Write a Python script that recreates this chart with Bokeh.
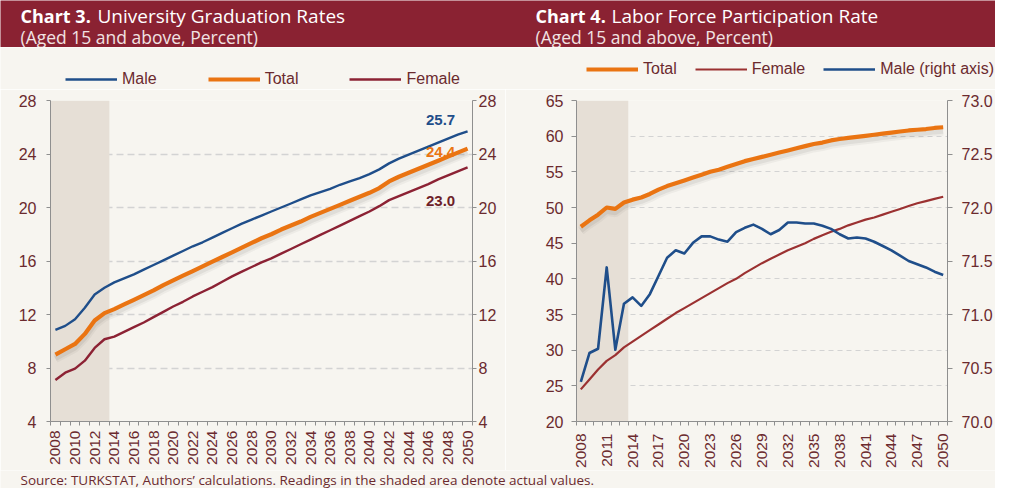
import math
from bokeh.plotting import figure
from bokeh.models import (Range1d, LinearAxis, FixedTicker, Legend, LegendItem,
                          NumeralTickFormatter, BoxAnnotation, ColumnDataSource)
from bokeh.layouts import column, row
from bokeh.core.properties import value
from bokeh.transform import dodge
from bokeh.embed import file_html
from bokeh.resources import INLINE

# ---------------- data ----------------
years = list(range(2008, 2051))
last_actual_year = 2013

grad_male = [10.85, 11.15, 11.65, 12.5, 13.5, 14.0, 14.4, 14.7, 15.0, 15.35, 15.7, 16.05,
             16.4, 16.75, 17.1, 17.4, 17.75, 18.1, 18.45, 18.8, 19.1, 19.4, 19.7, 20.0,
             20.3, 20.6, 20.9, 21.15, 21.4, 21.7, 21.95, 22.2, 22.5, 22.85, 23.3, 23.65,
             23.95, 24.25, 24.55, 24.85, 25.15, 25.45, 25.7]
grad_total = [9.0, 9.4, 9.8, 10.55, 11.55, 12.1, 12.4, 12.75, 13.1, 13.45, 13.8, 14.2,
              14.55, 14.9, 15.25, 15.6, 15.95, 16.3, 16.65, 17.0, 17.35, 17.7, 18.0, 18.35,
              18.65, 18.95, 19.3, 19.6, 19.9, 20.2, 20.5, 20.8, 21.1, 21.45, 21.95, 22.3,
              22.6, 22.9, 23.2, 23.5, 23.8, 24.1, 24.4]
grad_female = [7.1, 7.65, 7.95, 8.55, 9.5, 10.15, 10.35, 10.7, 11.05, 11.4, 11.8, 12.2,
               12.6, 12.95, 13.35, 13.7, 14.05, 14.45, 14.85, 15.2, 15.55, 15.9, 16.2, 16.55,
               16.9, 17.25, 17.6, 17.95, 18.3, 18.65, 19.0, 19.35, 19.7, 20.1, 20.55, 20.85,
               21.15, 21.45, 21.75, 22.1, 22.4, 22.7, 23.0]

lf_total = [47.3, 48.2, 49.0, 50.0, 49.8, 50.7, 51.1, 51.4, 51.9, 52.5, 53.0, 53.4,
            53.8, 54.2, 54.6, 55.0, 55.3, 55.7, 56.1, 56.5, 56.8, 57.1, 57.4, 57.7,
            58.0, 58.3, 58.6, 58.9, 59.1, 59.4, 59.6, 59.75, 59.9, 60.05, 60.2, 60.35,
            60.5, 60.65, 60.8, 60.9, 61.0, 61.15, 61.25]
lf_female = [24.5, 25.9, 27.3, 28.5, 29.3, 30.4, 31.2, 32.0, 32.8, 33.6, 34.4, 35.2,
             35.9, 36.6, 37.3, 38.0, 38.7, 39.4, 40.0, 40.8, 41.5, 42.2, 42.8, 43.4,
             44.0, 44.5, 45.0, 45.6, 46.1, 46.6, 47.0, 47.5, 47.9, 48.3, 48.6, 49.0,
             49.4, 49.8, 50.2, 50.6, 50.9, 51.2, 51.5]
lf_male = [70.37, 70.64, 70.68, 71.44, 70.67, 71.10, 71.16, 71.08, 71.19, 71.36, 71.53, 71.60,
           71.57, 71.67, 71.73, 71.73, 71.70, 71.68, 71.77, 71.81, 71.84, 71.80, 71.75, 71.79,
           71.86, 71.86, 71.85, 71.85, 71.83, 71.80, 71.75, 71.71, 71.72, 71.71, 71.68, 71.64,
           71.60, 71.55, 71.50, 71.47, 71.44, 71.40, 71.37]

grad_y_ticks = [4, 8, 12, 16, 20, 24, 28]
lf_left_ticks = [20, 25, 30, 35, 40, 45, 50, 55, 60, 65]
lf_right_ticks = [70.0, 70.5, 71.0, 71.5, 72.0, 72.5, 73.0]
grad_x_labels = years[::2]
lf_x_labels = years[::3]

# ---------------- style ----------------
BG = "#F7F5F0"
MAROON = "#8A2232"
SHADE = "#E6DFD6"
BLUE = "#1F4E8A"
ORANGE = "#EA7412"
FEMALE3 = "#8C2234"
FEMALE4 = "#9B3131"
TXT = "#6B2A2E"
AXIS = "#8F8F8F"
GRID = "#D3D3D3"
AX_FONT = "Liberation Sans"
HDR_FONT = "Open Sans"

W3, W4 = 505, 490
HD_H = 47
LEG_H = 42
CH_H = 381
FT_H = 18


def style_axis(ax, tick_out, standoff, size="16px"):
    ax.axis_line_color = AXIS
    ax.axis_line_width = 1
    ax.major_tick_line_color = AXIS
    ax.major_tick_out = tick_out
    ax.major_tick_in = 0
    ax.minor_tick_line_color = None
    ax.major_label_standoff = standoff
    ax.major_label_text_font = AX_FONT
    ax.major_label_text_font_size = size
    ax.major_label_text_color = TXT


def style_bottom(ax, ticks, standoff):
    ax.ticker = FixedTicker(ticks=ticks,
                            minor_ticks=[y - 0.5 for y in years] + [years[-1] + 0.5])
    style_axis(ax, 0, standoff, "15.5px")
    ax.minor_tick_line_color = AXIS
    ax.minor_tick_out = 4
    ax.minor_tick_in = 0
    ax.major_label_orientation = math.pi / 2


def blank_fig(w, h, bg):
    f = figure(width=w, height=h, x_range=Range1d(0, w), y_range=Range1d(h, 0),
               output_backend="svg", toolbar_location=None, min_border=0,
               outline_line_color=None, background_fill_color=bg,
               border_fill_color=bg, x_axis_location=None, y_axis_location=None)
    f.grid.visible = False
    return f


def add_legend(f, entries, x0, bottom_from_canvas_bottom, spacing):
    """Legend whose sample lines are styled exactly like the chart's series."""
    items = []
    for label, color, lw in entries:
        # legend-sample renderer only (a single NaN point draws nothing itself)
        r = f.line(x=[float("nan")], y=[float("nan")], line_color=color, line_width=lw)
        items.append(LegendItem(label=label, renderers=[r]))
    lg = Legend(items=items, orientation="horizontal", location=(x0, bottom_from_canvas_bottom),
                glyph_width=52, glyph_height=20, label_standoff=5, spacing=spacing,
                padding=0, margin=0, border_line_color=None, background_fill_alpha=0,
                label_text_font=AX_FONT, label_text_font_size="16px",
                label_text_color=TXT, label_height=20)
    f.add_layout(lg)


# ---------------- header ----------------
hdr = blank_fig(995, HD_H, MAROON)
hdr.text(x=[20, 535], y=[15, 15], text=["Chart 3.", "Chart 4."],
         text_font=value(HDR_FONT), text_font_style="bold", text_font_size="18px",
         text_color="#FFFFFF", text_baseline="middle", text_align="left")
hdr.text(x=[97, 611], y=[15, 15],
         text=["University Graduation Rates", "Labor Force Participation Rate"],
         text_font=value(HDR_FONT), text_font_size="19px",
         text_color="#FFFFFF", text_baseline="middle", text_align="left")
hdr.text(x=[20, 535], y=[36, 36],
         text=["(Aged 15 and above, Percent)", "(Aged 15 and above, Percent)"],
         text_font=value(HDR_FONT), text_font_size="17.5px",
         text_color="#F1E3E3", text_baseline="middle", text_align="left")

# ---------------- legends strip ----------------
leg = blank_fig(995, LEG_H, BG)
add_legend(leg, [("Male", BLUE, 2.4), ("Total", ORANGE, 4.2), ("Female", FEMALE3, 2.4)],
           65, 0, 51)
add_legend(leg, [("Total", ORANGE, 4.2), ("Female", FEMALE4, 2.2),
                 ("Male (right axis)", BLUE, 2.6)], 586, 10, 18)

# ---------------- chart 3 ----------------
src3 = ColumnDataSource(dict(year=years, male=grad_male, total=grad_total, female=grad_female))
p3 = figure(width=W3, height=CH_H,
            x_range=Range1d(years[0] - 0.5, years[-1] + 0.5),
            y_range=Range1d(grad_y_ticks[0], grad_y_ticks[-1]),
            output_backend="svg", toolbar_location=None,
            min_border_left=50, min_border_right=33, min_border_top=11, min_border_bottom=40,
            background_fill_color=BG, border_fill_color=BG, outline_line_color=None)
p3.add_layout(BoxAnnotation(left=years[0] - 0.5, right=last_actual_year + 0.5,
                            fill_color=SHADE, fill_alpha=1, line_color=None, level="underlay"))
p3.xgrid.visible = False
p3.ygrid.ticker = FixedTicker(ticks=grad_y_ticks)
p3.ygrid.grid_line_color = GRID
p3.ygrid.grid_line_dash = "7 4"
p3.ygrid.grid_line_width = 1.5

p3.line(x="year", y=dodge("total", -0.3, range=p3.y_range), source=src3,
        line_color="#000000", line_alpha=0.04, line_width=9)
p3.line(x="year", y=dodge("total", -0.3, range=p3.y_range), source=src3,
        line_color="#000000", line_alpha=0.06, line_width=5)
p3.line(x="year", y="male", source=src3, line_color=BLUE, line_width=2.4, line_join="round")
p3.line(x="year", y="female", source=src3, line_color=FEMALE3, line_width=2.4, line_join="round")
p3.line(x="year", y="total", source=src3, line_color=ORANGE, line_width=4.2, line_join="round")

ya = p3.yaxis[0]
ya.ticker = FixedTicker(ticks=grad_y_ticks)
style_axis(ya, 4, 10)
ra = LinearAxis(ticker=FixedTicker(ticks=grad_y_ticks))
style_axis(ra, 4, 2)
p3.add_layout(ra, "right")
style_bottom(p3.xaxis[0], grad_x_labels, 5)

lbl_common = dict(text_font=value(AX_FONT), text_font_style="bold", text_font_size="15px",
                  text_align="center", text_baseline="middle")
p3.text(x=[years[-1]], y=[grad_male[-1]], text=[f"{grad_male[-1]:.1f}"],
        x_offset=-27, y_offset=-11, text_color=BLUE, **lbl_common)
p3.text(x=[years[-1]], y=[grad_total[-1]], text=[f"{grad_total[-1]:.1f}"],
        x_offset=-27, y_offset=3, text_color=ORANGE, **lbl_common)
p3.text(x=[years[-1]], y=[grad_female[-1]], text=[f"{grad_female[-1]:.1f}"],
        x_offset=-27, y_offset=34, text_color="#6D1F2A", **lbl_common)

# ---------------- chart 4 ----------------
src4 = ColumnDataSource(dict(year=years, male=lf_male, total=lf_total, female=lf_female))
p4 = figure(width=W4, height=CH_H,
            x_range=Range1d(years[0] - 0.5, years[-1] + 0.5),
            y_range=Range1d(lf_left_ticks[0], lf_left_ticks[-1]),
            output_backend="svg", toolbar_location=None,
            min_border_left=71, min_border_right=45, min_border_top=11, min_border_bottom=42,
            background_fill_color=BG, border_fill_color=BG, outline_line_color=None)
p4.extra_y_ranges = {"right": Range1d(lf_right_ticks[0], lf_right_ticks[-1])}
p4.add_layout(BoxAnnotation(left=years[0] - 0.5, right=last_actual_year + 0.5,
                            fill_color=SHADE, fill_alpha=1, line_color=None, level="underlay"))
p4.xgrid.visible = False
p4.ygrid.ticker = FixedTicker(ticks=lf_left_ticks)
p4.ygrid.grid_line_color = GRID
p4.ygrid.grid_line_dash = "5 4"
p4.ygrid.grid_line_width = 1.2

p4.line(x="year", y=dodge("total", -0.55, range=p4.y_range), source=src4,
        line_color="#000000", line_alpha=0.04, line_width=9)
p4.line(x="year", y=dodge("total", -0.55, range=p4.y_range), source=src4,
        line_color="#000000", line_alpha=0.06, line_width=5)
p4.line(x="year", y="female", source=src4, line_color=FEMALE4, line_width=2.2, line_join="round")
p4.line(x="year", y="male", source=src4, line_color=BLUE, line_width=2.6,
        line_join="round", y_range_name="right")
p4.line(x="year", y="total", source=src4, line_color=ORANGE, line_width=4.2, line_join="round")

ya4 = p4.yaxis[0]
ya4.ticker = FixedTicker(ticks=lf_left_ticks)
style_axis(ya4, 5, 8)
ra4 = LinearAxis(y_range_name="right", ticker=FixedTicker(ticks=lf_right_ticks),
                 formatter=NumeralTickFormatter(format="0.0"))
style_axis(ra4, 5, 9)
p4.add_layout(ra4, "right")
style_bottom(p4.xaxis[0], lf_x_labels, 8)

# ---------------- footer ----------------
ftr = blank_fig(995, FT_H, BG)
ftr.text(x=[20], y=[9],
         text=["Source: TURKSTAT, Authors\u2019 calculations. Readings in the shaded area denote actual values."],
         text_font=value(HDR_FONT), text_font_size="13.5px", text_color=TXT,
         text_baseline="middle", text_align="left")

layout = column(hdr, leg, row(p3, p4), ftr)
open("out.html", "w").write(file_html(layout, INLINE))
